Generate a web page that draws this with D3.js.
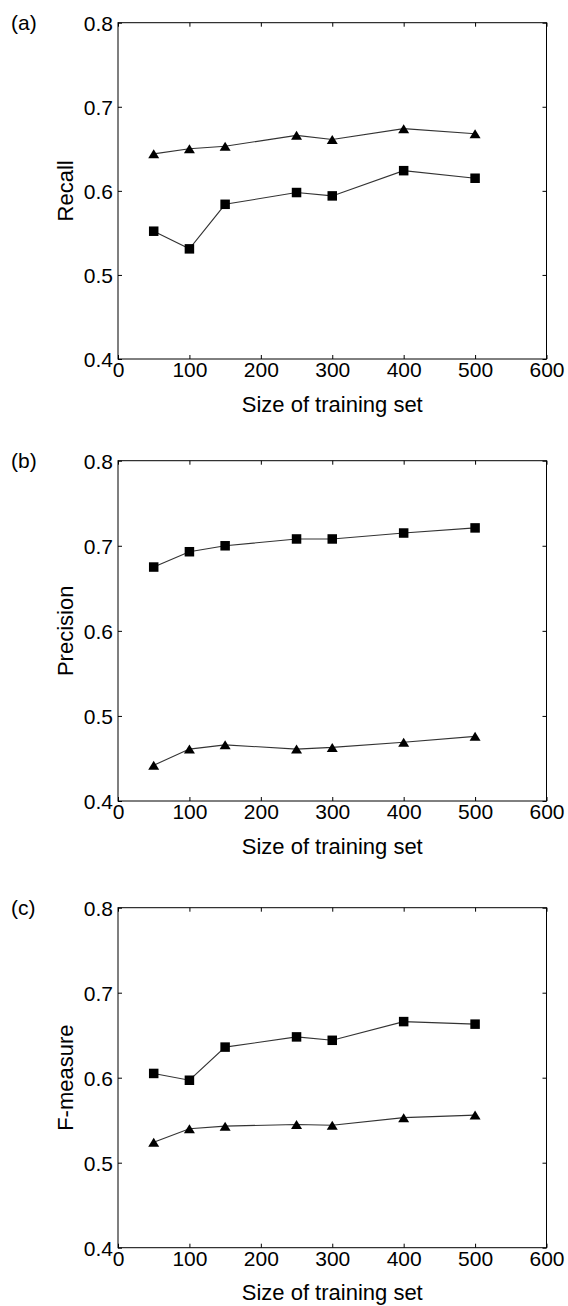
<!DOCTYPE html>
<html>
<head>
<meta charset="utf-8">
<script src="https://cdn.jsdelivr.net/npm/d3@7"></script>
<style>
html,body{margin:0;padding:0;background:#fff;}
svg{display:block;}
text{font-family:"Liberation Sans",Arial,Helvetica,sans-serif;fill:#000;}
</style>
</head>
<body>
<svg id="chart" width="568" height="1306"></svg>
<script>
const sizes = [50, 100, 150, 250, 300, 400, 500];
const recallSquare = [0.552, 0.531, 0.584, 0.598, 0.594, 0.624, 0.615];
const recallTriangle = [0.644, 0.650, 0.653, 0.666, 0.661, 0.674, 0.668];
const precisionSquare = [0.675, 0.693, 0.700, 0.708, 0.708, 0.715, 0.721];
const precisionTriangle = [0.442, 0.461, 0.466, 0.461, 0.463, 0.469, 0.476];
const fmeasureSquare = [0.605, 0.597, 0.636, 0.648, 0.644, 0.666, 0.663];
const fmeasureTriangle = [0.524, 0.540, 0.543, 0.545, 0.544, 0.553, 0.556];
const xTicks = [0, 100, 200, 300, 400, 500, 600];
const yTicks = [0.4, 0.5, 0.6, 0.7, 0.8];
const panelLetters = ["(a)", "(b)", "(c)"];
const yTitles = ["Recall", "Precision", "F-measure"];
const xTitle = "Size of training set";

const panels = [
  {letter: panelLetters[0], ytitle: yTitles[0], sq: recallSquare, tri: recallTriangle, top: 22.7, bottom: 359},
  {letter: panelLetters[1], ytitle: yTitles[1], sq: precisionSquare, tri: precisionTriangle, top: 460.7, bottom: 801},
  {letter: panelLetters[2], ytitle: yTitles[2], sq: fmeasureSquare, tri: fmeasureTriangle, top: 907.7, bottom: 1247.7}
];

const svg = d3.select("#chart");
const left = 118, right = 546.5;
const fs = 21;

panels.forEach(p => {
  const g = svg.append("g");
  const x = d3.scaleLinear().domain([0, 600]).range([left, right]);
  const y = d3.scaleLinear().domain([0.4, 0.8]).range([p.bottom, p.top]);
  const tl = 4;

  const axB = g.append("g").attr("transform", `translate(0,${p.bottom})`)
    .call(d3.axisBottom(x).tickValues(xTicks).tickSize(-tl).tickSizeOuter(0).tickPadding(5).tickFormat(d3.format("d")));
  const axT = g.append("g").attr("transform", `translate(0,${p.top})`)
    .call(d3.axisTop(x).tickValues(xTicks).tickSize(-tl).tickSizeOuter(0).tickFormat(""));
  const axL = g.append("g").attr("transform", `translate(${left},0)`)
    .call(d3.axisLeft(y).tickValues(yTicks).tickSize(-tl).tickSizeOuter(0).tickPadding(5).tickFormat(d3.format(".1f")));
  const axR = g.append("g").attr("transform", `translate(${right},0)`)
    .call(d3.axisRight(y).tickValues(yTicks).tickSize(-tl).tickSizeOuter(0).tickFormat(""));
  [axB, axT, axL, axR].forEach(a => {
    a.select(".domain").remove();
    a.selectAll(".tick line").attr("stroke", "#000").attr("stroke-width", 1);
    a.selectAll("text").attr("font-size", fs).attr("font-family", "Liberation Sans, Arial, sans-serif").attr("fill", "#000");
  });
  axB.selectAll(".tick text").attr("dy", null).attr("y", 18).attr("dominant-baseline", "auto");
  axL.selectAll(".tick text").attr("dy", "0.36em");

  g.append("rect").attr("x", left).attr("y", p.top).attr("width", right - left).attr("height", p.bottom - p.top)
    .attr("fill", "none").attr("stroke", "#000").attr("stroke-width", 1);

  g.append("text").attr("x", (left + right) / 2).attr("y", p.bottom + 52.5)
    .attr("text-anchor", "middle").attr("font-size", 22).text(xTitle);
  g.append("text").attr("transform", `translate(${left - 45},${(p.top + p.bottom) / 2}) rotate(-90)`)
    .attr("text-anchor", "middle").attr("font-size", 22).text(p.ytitle);
  g.append("text").attr("x", 11).attr("y", p.top + 7).attr("font-size", fs).text(p.letter);

  const line = d3.line().x((d, i) => x(sizes[i])).y(d => y(d));
  [p.sq, p.tri].forEach(s => {
    g.append("path").datum(s).attr("d", line).attr("fill", "none")
      .attr("stroke", "#333").attr("stroke-width", 1.1);
  });

  const sqs = 9.5;
  g.selectAll(null).data(p.sq).enter().append("rect")
    .attr("x", (d, i) => x(sizes[i]) - sqs / 2).attr("y", d => y(d) - sqs / 2)
    .attr("width", sqs).attr("height", sqs).attr("fill", "#000");

  const tw = 11, th = 9;
  g.selectAll(null).data(p.tri).enter().append("path")
    .attr("d", (d, i) => {
      const cx = x(sizes[i]), cy = y(d);
      return `M${cx},${cy - th / 2}L${cx + tw / 2},${cy + th / 2}L${cx - tw / 2},${cy + th / 2}Z`;
    })
    .attr("fill", "#000");
});
</script>
</body>
</html>
